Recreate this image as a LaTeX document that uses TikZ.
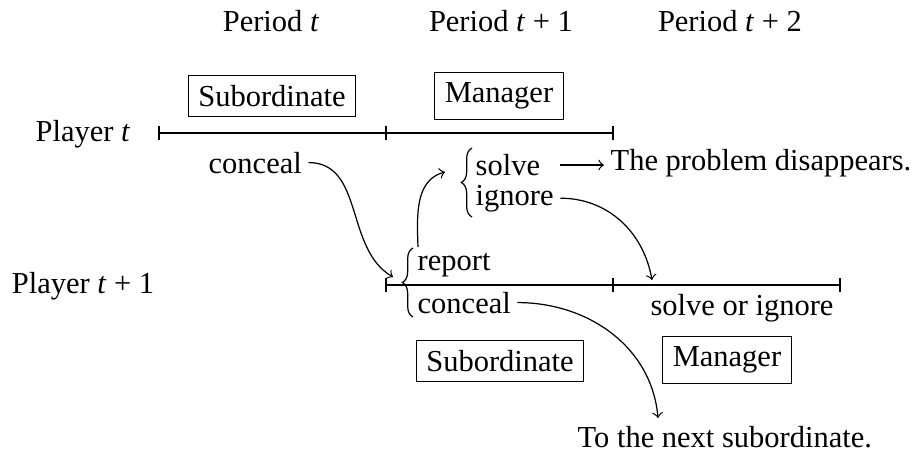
\documentclass[tikz,border=0pt]{standalone}
\usepackage{fontspec}
\setmainfont{Liberation Serif}
\usetikzlibrary{arrows,decorations.pathreplacing}
\tikzstyle{bx} = [rectangle, draw, inner sep=3.33pt]
\tikzstyle{lbl} = [inner sep=2pt, anchor=base west]
\tikzstyle{brc} = [decorate, decoration={brace,amplitude=3.5pt}]

\begin{document}
\begin{tikzpicture}[x=0.328pt,y=0.328pt]
  \useasboundingbox (0,0) rectangle (923,454);

  % periods and players
  \node[anchor=base] (per1) at (271,423) {Period \textit{t}};
  \node[anchor=base] (per2) at (501,423) {Period \textit{t} + 1};
  \node[anchor=base] (per3) at (730,423) {Period \textit{t} + 2};
  \node[anchor=base] (pl1)  at (83,313)  {Player \textit{t}};
  \node[anchor=base] (pl2)  at (83,161)  {Player \textit{t} + 1};

  % time lines
  \coordinate (a0) at (159,321);
  \coordinate (a1) at (386,321);
  \coordinate (a2) at (613,321);
  \coordinate (b0) at (386,169);
  \coordinate (b1) at (613,169);
  \coordinate (b2) at (840,169);
  \draw (a0) -- (a2);
  \draw (b0) -- (b2);
  \foreach \c in {a0,a1,a2,b0,b1,b2}
    \draw ([yshift=-2.3pt]\c) -- ([yshift=2.3pt]\c);

  % roles
  \node[bx] (sub1) at (272,358) {Subordinate};
  \node[bx] (man1) at (499,358) {Manager};
  \node[bx] (sub2) at (500,93)  {Subordinate};
  \node[bx] (man2) at (727,94)  {Manager};

  % choices
  \node[lbl] (con1)  at (202,281) {conceal};
  \node[lbl] (solve) at (469,279) {solve};
  \node[lbl] (ign)   at (469,249) {ignore};
  \node[lbl] (gone)  at (604,284) {The problem disappears.};
  \node[lbl] (rep)   at (411,184) {report};
  \node[lbl] (con2)  at (411,141) {conceal};
  \node[anchor=base] (soi) at (742,139) {solve or ignore};
  \node[lbl] (next)  at (571,7)   {To the next subordinate.};

  \draw[brc] (472,237) -- (472,306);
  \draw[brc] (413,137) -- (413,206);

  % moves
  \coordinate (e1) at (393,177);
  \coordinate (r0) at (418,207);
  \coordinate (e2) at (445,282);
  \coordinate (s0) at (560,289);
  \coordinate (e3) at (652,174);
  \coordinate (e4) at (658,36);
  \draw[->] (con1.east) to[out=0,in=150] (e1);
  \draw[->] (r0) to[out=92,in=195] (e2);
  \draw[->] (s0) -- (s0 -| gone.west);
  \draw[->] (ign.east) to[out=0,in=100] (e3);
  \draw[->] (con2.east) to[out=0,in=95] (e4);
\end{tikzpicture}
\end{document}
